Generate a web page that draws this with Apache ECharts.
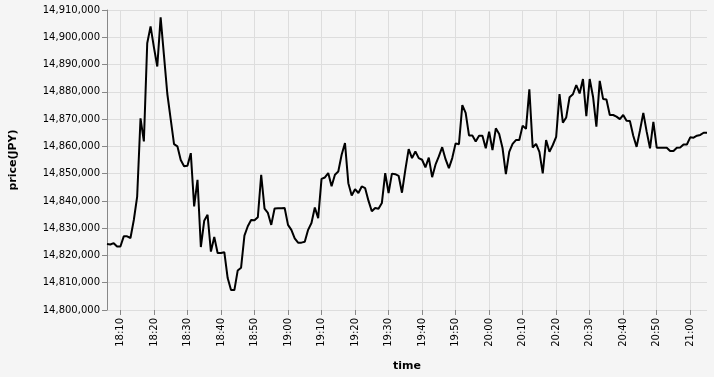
<!DOCTYPE html>
<html>
<head>
<meta charset="utf-8">
<script src="https://cdn.jsdelivr.net/npm/echarts@6/dist/echarts.min.js"></script>
<style>
  html, body { margin: 0; padding: 0; background: #f5f5f5; }
  #chart { width: 714px; height: 377px; }
</style>
</head>
<body>
<div id="chart"></div>
<script>
// one sample per minute, first at 18:06
const startHour = 18;
const startMinute = 6;

const prices = [
  14824200, 14824000, 14824500, 14823300, 14823300, 14827000, 14827000, 14826400, 14833000, 14841600,
  14870300, 14861800, 14897800, 14904000, 14896300, 14889300, 14907300, 14893300, 14879200, 14870000,
  14860800, 14860000, 14855000, 14852700, 14852900, 14857500, 14838000, 14847700, 14823100, 14832700,
  14834900, 14821400, 14826800, 14820900, 14820900, 14821200, 14811700, 14807300, 14807300, 14814500,
  14815500, 14827300, 14830700, 14833000, 14832900, 14834000, 14849600, 14837200, 14835600, 14831200,
  14837200, 14837300, 14837300, 14837400, 14831200, 14829400, 14826300, 14824700, 14824700, 14825000,
  14829400, 14831900, 14837600, 14833700, 14848100, 14848600, 14850200, 14845400, 14849600, 14850800,
  14856900, 14861200, 14846500, 14842000, 14844300, 14842900, 14845300, 14844700, 14840100, 14836200,
  14837400, 14837100, 14839200, 14850200, 14842900, 14850000, 14849800, 14849200, 14843000, 14851400,
  14859000, 14855700, 14858100, 14855700, 14855100, 14852300, 14855900, 14848700, 14853300, 14856300,
  14859700, 14855300, 14852000, 14855700, 14861100, 14860800, 14875100, 14872300, 14864000, 14864000,
  14861800, 14863900, 14863900, 14859300, 14865400, 14858600, 14866600, 14864500, 14859400, 14849800,
  14858000, 14860900, 14862300, 14862300, 14867600, 14866400, 14880900, 14859600, 14860900, 14858000,
  14850100, 14862300, 14858000, 14860500, 14863500, 14879200, 14868700, 14870600, 14878000, 14879100,
  14882500, 14879400, 14884700, 14871100, 14884700, 14878200, 14867200, 14884000, 14877400, 14877200,
  14871500, 14871500, 14870900, 14870000, 14871500, 14869400, 14869300, 14863900, 14859800, 14865800,
  14872300, 14865400, 14859300, 14869000, 14859500, 14859500, 14859500, 14859500, 14858300, 14858300,
  14859500, 14859600, 14860700, 14860700, 14863300, 14863200, 14863900, 14864200, 14865000, 14865000
];

const times = prices.map(function (p, i) {
  const m = startHour * 60 + startMinute + i;
  const hh = String(Math.floor(m / 60)).padStart(2, '0');
  const mm = String(m % 60).padStart(2, '0');
  return hh + ':' + mm;
});

const yMin = 14800000;
const yMax = 14910000;
const yStep = 10000;

const everyTen = function (index, value) {
  return times[index].slice(-1) === '0';
};

const myChart = echarts.init(document.getElementById('chart'));
const option = {
  backgroundColor: '#f5f5f5',
  animation: false,
  textStyle: { fontFamily: 'DejaVu Sans' },
  grid: {
    left: 107,
    right: 7,
    top: 10,
    bottom: 67,
  },
  xAxis: {
    type: 'category',
    data: times,
    boundaryGap: false,
    name: 'time',
    nameLocation: 'middle',
    nameGap: 51,
    nameTextStyle: { fontWeight: 'bold', fontSize: 11, color: '#000' },
    axisLine: { show: false },
    axisTick: {
      interval: everyTen,
      length: 5,
      lineStyle: { color: '#888' },
    },
    axisLabel: {
      interval: everyTen,
      rotate: 90,
      margin: 8,
      fontSize: 10,
      color: '#000',
    },
    splitLine: {
      show: true,
      interval: everyTen,
      lineStyle: { color: '#ddd' },
    },
  },
  yAxis: {
    type: 'value',
    min: yMin,
    max: yMax,
    interval: yStep,
    name: 'price(JPY)',
    nameLocation: 'middle',
    nameGap: 88,
    nameTextStyle: { fontWeight: 'bold', fontSize: 11, color: '#000' },
    axisLine: { show: true, lineStyle: { color: '#888' } },
    axisTick: { show: true, length: 5, lineStyle: { color: '#888' } },
    axisLabel: {
      margin: 7,
      fontSize: 10,
      color: '#000',
      formatter: function (v) { return v.toLocaleString('en-US'); },
    },
    splitLine: { lineStyle: { color: '#ddd' } },
  },
  series: [{
    type: 'line',
    data: prices,
    showSymbol: false,
    lineStyle: { color: '#000', width: 2 },
    itemStyle: { color: '#000' },
  }],
};
myChart.setOption(option);
</script>
</body>
</html>
